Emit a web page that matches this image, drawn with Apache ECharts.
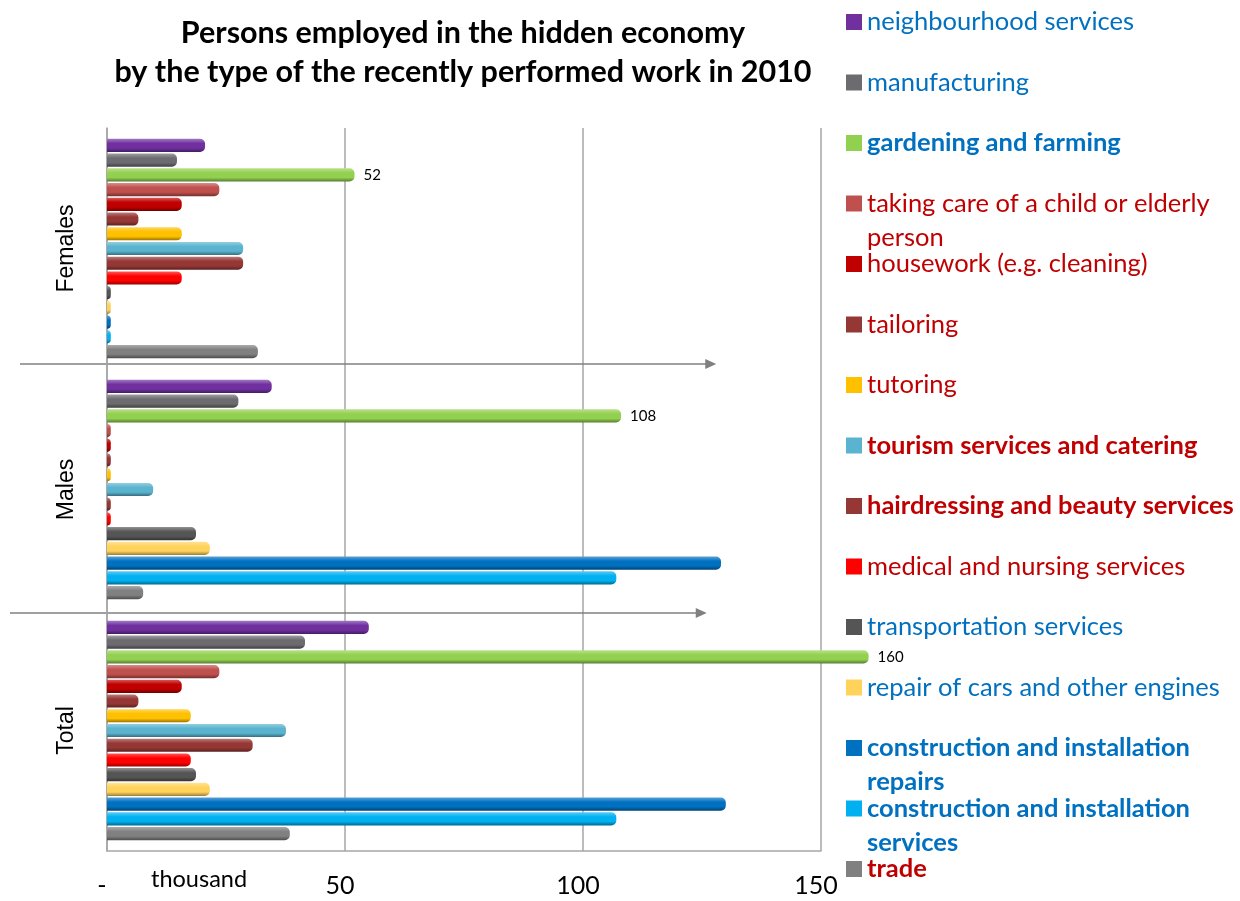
<!DOCTYPE html>
<html>
<head>
<meta charset="utf-8">
<title>Hidden economy 2010</title>
<script src="https://cdn.jsdelivr.net/npm/echarts@6/dist/echarts.min.js"></script>
</head>
<body style="margin:0">
<div id="main" style="width:1240px;height:901px;"></div>
<script type="text/javascript">
var groups = ['Females', 'Males', 'Total'];
var workTypes = [
    'neighbourhood services',
    'manufacturing',
    'gardening and farming',
    'taking care of a child or elderly person',
    'housework (e.g. cleaning)',
    'tailoring',
    'tutoring',
    'tourism services and catering',
    'hairdressing and beauty services',
    'medical and nursing services',
    'transportation services',
    'repair of cars and other engines',
    'construction and installation repairs',
    'construction and installation services',
    'trade'
];
// legend lines as they wrap in the picture
var legendText = [
    'neighbourhood services',
    'manufacturing',
    'gardening and farming',
    'taking care of a child or elderly\nperson',
    'housework (e.g. cleaning)',
    'tailoring',
    'tutoring',
    'tourism services and catering',
    'hairdressing and beauty services',
    'medical and nursing services',
    'transportation services',
    'repair of cars and other engines',
    'construction and installation\nrepairs',
    'construction and installation\nservices',
    'trade'
];
// thousand persons
var females = [20.6, 14.7, 52, 23.6, 15.7, 6.6, 15.7, 28.6, 28.6, 15.7, 0.8, 0.8, 0.8, 0.8, 31.7];
var males   = [34.6, 27.6, 108, 0.8, 0.8, 0.8, 0.8, 9.7, 0.8, 0.8, 18.7, 21.6, 129, 107, 7.6];
var total   = [55, 41.6, 160, 23.6, 15.7, 6.6, 17.6, 37.6, 30.6, 17.6, 18.7, 21.6, 130, 107, 38.4];
var labelled = ['gardening and farming'];
var xTicks = [0, 50, 100, 150];

var barColors = ['#7030A0', '#6B6B70', '#92D050', '#C0504D', '#C00000', '#953735', '#FFC000', '#5BB4CF',
                 '#953735', '#FF0000', '#555555', '#FFD35B', '#0070C0', '#00B0F0', '#808080'];
var blue = '#0070C0', red = '#C00000';
var legendColors = [blue, blue, blue, red, red, red, red, red, red, red, blue, blue, blue, blue, red];
var legendBold = [false, false, true, false, false, false, false, true, true, false, false, false, true, true, true];

function shade(hex, f) {
    var n = parseInt(hex.slice(1), 16);
    var c = [(n >> 16) & 255, (n >> 8) & 255, n & 255];
    var t = f > 0 ? 255 : 0, p = Math.abs(f);
    c = c.map(function (v) { return Math.round(v + (t - v) * p); });
    return 'rgb(' + c.join(',') + ')';
}

var myChart = echarts.init(document.getElementById('main'));

var series = workTypes.map(function (name, i) {
    var c = barColors[i];
    return {
        name: name,
        type: 'bar',
        data: [females[i], males[i], total[i]],
        clip: false,
        barGap: '12%',
        barCategoryGap: '9%',
        itemStyle: {
            borderRadius: [0, 5, 5, 0],
            color: new echarts.graphic.LinearGradient(0, 0, 0, 1, [
                {offset: 0, color: shade(c, 0.35)},
                {offset: 0.35, color: c},
                {offset: 0.7, color: c},
                {offset: 1, color: shade(c, -0.4)}
            ])
        },
        label: {
            show: labelled.indexOf(name) >= 0,
            position: 'right',
            distance: 9,
            color: '#000',
            fontSize: 15,
            fontFamily: 'Lato'
        }
    };
});

// one legend per entry so that the wrapped entries keep the even spacing
var legends = workTypes.map(function (name, i) {
    var wrapped = legendText[i].indexOf('\n') >= 0;
    var centre = 22 + i * 60.5;
    return {
        orient: 'vertical',
        left: 846,
        top: centre - (wrapped ? 51 : 17),
        padding: 0,
        itemWidth: 16,
        itemHeight: 16,
        icon: 'rect',
        selectedMode: false,
        formatter: function () {
            // empty first line keeps the first text line level with the square
            return wrapped ? '\n' + legendText[i] : legendText[i];
        },
        textStyle: {
            fontFamily: 'Lato',
            fontSize: 25.5,
            lineHeight: 34,
            color: legendColors[i],
            fontWeight: legendBold[i] ? 'bold' : 'normal'
        },
        data: [{name: name, itemStyle: {color: barColors[i]}}]
    };
});

var option = {
    animation: false,
    title: {
        text: 'Persons employed in the hidden economy\nby the type of the recently performed work in 2010',
        left: 463,
        top: 14,
        padding: 0,
        textAlign: 'center',
        textStyle: {
            fontFamily: 'Lato',
            fontWeight: 'bold',
            fontSize: 30.5,
            lineHeight: 39,
            color: '#000'
        }
    },
    legend: legends,
    grid: {
        left: 107,
        right: 419,
        top: 128,
        bottom: 50
    },
    xAxis: {
        type: 'value',
        min: xTicks[0],
        max: xTicks[xTicks.length - 1],
        interval: 50,
        axisLine: {show: true, lineStyle: {color: '#A6A6A6', width: 1.5}},
        axisTick: {show: false},
        splitLine: {lineStyle: {color: '#A6A6A6', width: 1.5}},
        axisLabel: {
            margin: 22,
            padding: [0, 10, 0, 0],
            color: '#000',
            fontFamily: 'Lato',
            fontSize: 25,
            formatter: function (v) { return v === 0 ? '-' : String(v); }
        }
    },
    yAxis: {
        type: 'category',
        inverse: true,
        data: groups,
        axisLine: {show: true, lineStyle: {color: '#A6A6A6', width: 1.5}},
        axisTick: {show: false},
        axisLabel: {
            rotate: 90,
            margin: 29,
            color: '#000',
            fontFamily: 'Liberation Sans',
            fontSize: 23
        }
    },
    series: series
};
myChart.setOption(option);

// separator arrows between the groups and the unit note
var yF = myChart.convertToPixel({yAxisIndex: 0}, groups[0]);
var yM = myChart.convertToPixel({yAxisIndex: 0}, groups[1]);
var yT = myChart.convertToPixel({yAxisIndex: 0}, groups[2]);
function arrow(y, x0, x1) {
    return [
        {type: 'line', shape: {x1: x0, y1: y, x2: x1 - 8, y2: y}, style: {stroke: '#808080', lineWidth: 1.5}},
        {type: 'polygon', shape: {points: [[x1, y], [x1 - 11, y - 5], [x1 - 11, y + 5]]}, style: {fill: '#808080'}}
    ];
}
var b1 = (yF + yM) / 2 - 5;
var b2 = (yM + yT) / 2 + 3;
var e1 = myChart.convertToPixel({xAxisIndex: 0}, 128);
var e2 = myChart.convertToPixel({xAxisIndex: 0}, 126);
myChart.setOption({
    graphic: arrow(b1, 20, e1).concat(arrow(b2, 10, e2)).concat([{
        type: 'text',
        left: 151,
        top: 867,
        style: {text: 'thousand', font: '23.5px Lato', fill: '#000'}
    }])
});
</script>
</body>
</html>
